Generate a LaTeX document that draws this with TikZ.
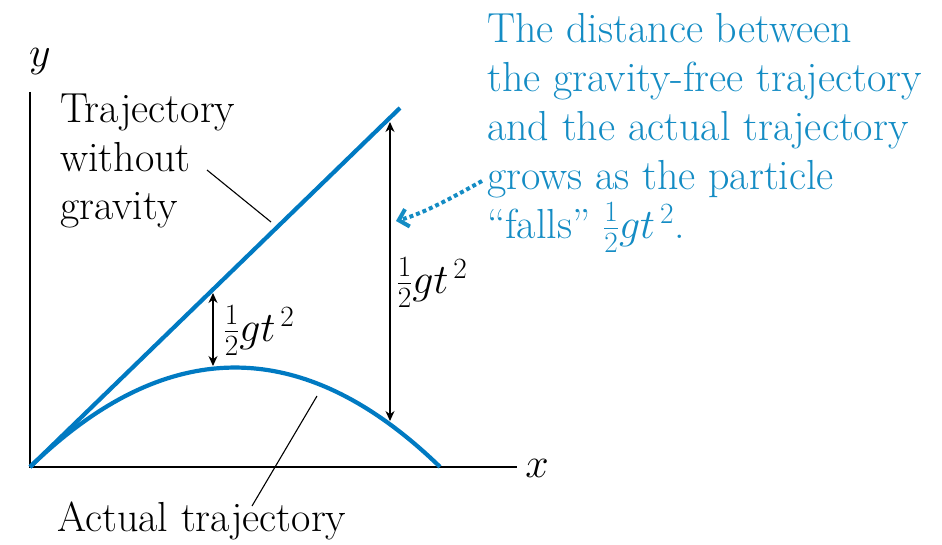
\RequirePackage{fix-cm}
\documentclass[tikz,border=0pt]{standalone}
\usepackage{fontspec}
\usetikzlibrary{arrows.meta}

\definecolor{trajblue}{RGB}{0,122,194}
\definecolor{noteblue}{RGB}{20,140,196}

\newcommand{\halfgt}{$\frac{1}{2}gt^{\,2}$}

\begin{document}
\begin{tikzpicture}[x=1pt, y=-1pt,
    every node/.style={font=\fontsize{42}{49}\selectfont, inner sep=0pt},
    traj/.style={trajblue, line width=4.2pt},
    dimarrow/.style={line width=1.1pt, {Stealth[length=10pt,width=9pt]}-{Stealth[length=10pt,width=9pt]}},
    leader/.style={line width=1.1pt}]
  \useasboundingbox (0,0) rectangle (942,545);

  % Axes
  \coordinate (O) at (30,467);
  \coordinate (ytop) at (30,92);
  \coordinate (xend) at (517,467);
  \draw[line width=1.6pt] (ytop) -- (O) -- (xend);
  \node (ylab) at (40,62) {$y$};
  \node (xlab) at (537,468) {$x$};

  % Gravity-free trajectory
  \coordinate (lineend) at (400,108);
  \draw[traj] (O) -- (lineend);

  % Actual trajectory
  \draw[traj] plot[domain=0:410, samples=80] ({30+\x},{467-0.97*\x+0.002366*\x*\x});

  % Small gap arrow
  \coordinate (sa) at (213,293);
  \coordinate (sb) at (213,366);
  \draw[dimarrow] (sa) -- (sb);
  \node (slab) at (259,331) {\halfgt};

  % Large gap arrow
  \coordinate (la) at (390,122);
  \coordinate (lb) at (390,421);
  \draw[dimarrow] (la) -- (lb);
  \node (llab) at (432,283) {\halfgt};

  % Labels with leaders
  \node[anchor=base west] (free) at (60,123) {Trajectory};
  \node[anchor=base west] (free2) at (60,172) {without};
  \node[anchor=base west] (free3) at (60,220) {gravity};
  \coordinate (fl1) at (207,170);
  \coordinate (fl2) at (271,222);
  \draw[leader] (fl1) -- (fl2);

  \node[anchor=base west] (actual) at (57,531) {Actual trajectory};
  \coordinate (al1) at (252,506);
  \coordinate (al2) at (317,396);
  \draw[leader] (al1) -- (al2);

  % Note
  \node[anchor=north west, align=left, text=noteblue] (note) at (487,13)
    {The distance between\\the gravity-free trajectory\\and the actual trajectory\\grows as the particle\\``falls'' \halfgt.};
  \coordinate (na) at (482,181);
  \coordinate (nb) at (396,221);
  \draw[noteblue, line width=4pt, dash pattern=on 4pt off 3pt,
        -{Straight Barb[length=9pt,width=18pt,line width=4pt]}]
    (na) .. controls (455,196) and (425,213) .. (nb);
\end{tikzpicture}
\end{document}
